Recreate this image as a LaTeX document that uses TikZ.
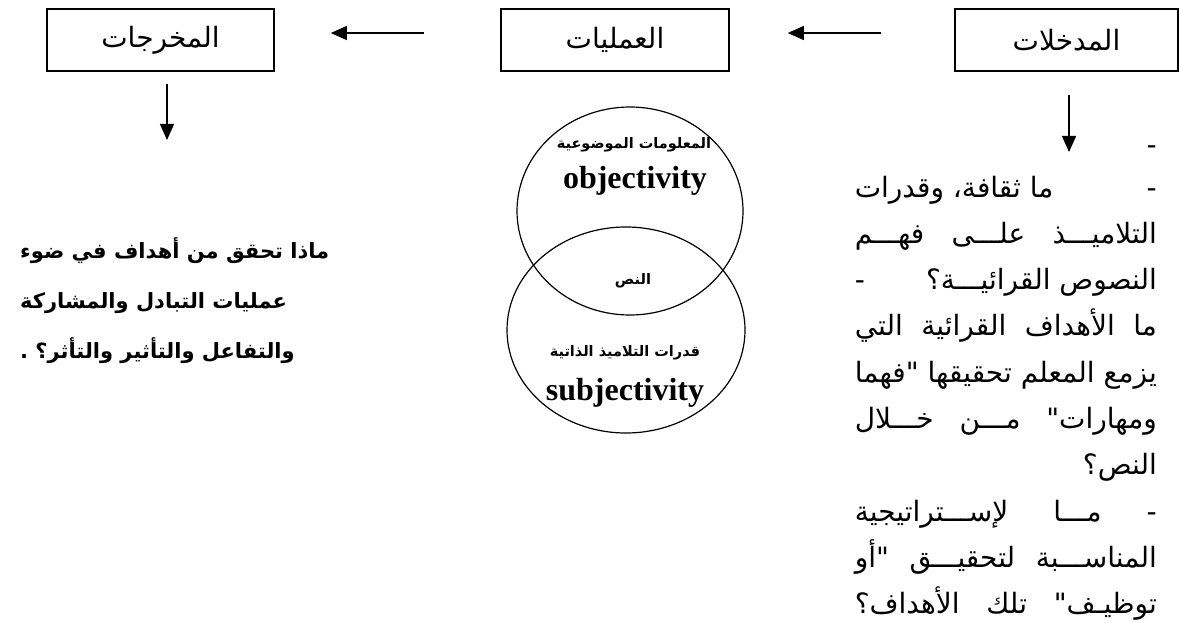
\documentclass[tikz,border=0pt]{standalone}
\usepackage{fontspec}
\usetikzlibrary{arrows.meta}
\TeXXeTstate=1
\newfontfamily\arabicfont[Script=Arabic,Ligatures=TeXOff]{DejaVu Sans}
\newfontfamily\latinserif{Liberation Serif}

\begin{document}
\begin{tikzpicture}[x=1pt, y=-1pt,
    stage/.style={draw, line width=1.6pt, minimum height=62pt, inner sep=0pt,
        font=\arabicfont\fontsize{28}{28}\selectfont},
    flow/.style={-{Triangle[length=16pt,width=14pt]}, line width=1.4pt},
    ring/.style={line width=1.2pt},
    question/.style={anchor=base east, inner sep=0pt,
        font=\arabicfont\fontsize{28}{28}\selectfont},
    goal/.style={anchor=base west, inner sep=0pt,
        font=\arabicfont\bfseries\fontsize{21}{21}\selectfont},
    inlabel/.style={anchor=base, inner sep=0pt,
        font=\arabicfont\bfseries\fontsize{14.5}{14.5}\selectfont},
    enlabel/.style={anchor=base, inner sep=0pt,
        font=\latinserif\bfseries\fontsize{32}{32}\selectfont}]

    \useasboundingbox (0,0) rectangle (1180,623);

    % boxes
    \node[stage, minimum width=227pt] (outbox) at (160.5,40) {\beginR المخرجات\endR};
    \node[stage, minimum width=228pt] (procbox) at (615,40) {\beginR العمليات\endR};
    \node[stage, minimum width=223pt] (inbox) at (1066.5,40) {\beginR المدخلات\endR};

    \draw[flow, shorten <=73pt, shorten >=58pt] ([yshift=7pt]inbox.west) -- ([yshift=7pt]procbox.east);
    \draw[flow, shorten <=76pt, shorten >=56pt] ([yshift=7pt]procbox.west) -- ([yshift=7pt]outbox.east);

    \coordinate (outtip) at (167,140);
    \coordinate (intip) at (1069,152);
    \draw[flow, shorten <=12pt] (outbox.south -| outtip) -- (outtip);
    \draw[flow, shorten <=23pt] (inbox.south -| intip) -- (intip);

    % the two circles
    \draw[ring] (630,211) ellipse [x radius=113pt, y radius=104pt];
    \draw[ring] (626,330) ellipse [x radius=119pt, y radius=103pt];

    \node[inlabel] (objar) at (634,148) {\beginR المعلومات الموضوعية\endR};
    \node[enlabel] (objen) at (635,188) {objectivity};
    \node[inlabel] (textar) at (633,284) {\beginR النص\endR};
    \node[inlabel] (subjar) at (625,356) {\beginR قدرات التلاميذ الذاتية\endR};
    \node[enlabel] (subjen) at (625,400) {subjectivity};

    % outputs
    \node[goal] (g1) at (20,258) {\beginR ماذا تحقق من أهداف في ضوء\endR};
    \node[goal] (g2) at (20,308) {\beginR عمليات التبادل والمشاركة\endR};
    \node[goal] (g3) at (20,358) {\beginR والتفاعل والتأثير والتأثر؟ .\endR};

    % inputs
    \node[question] (q0) at (1157,154) {-};
    \node[question] (q1) at (1157,197) {\hbox to 302pt{\beginR -\hfill ما ثقافة، وقدرات\endR}};
    \node[question] (q2) at (1157,243.3) {\hbox to 302pt{\beginR التلاميـــذ\hfill علـــى\hfill فهـــم\endR}};
    \node[question] (q3) at (1157,289.6) {\hbox to 302pt{\beginR النصوص القرائيـــة؟\hfill -\endR}};
    \node[question] (q4) at (1157,335.9) {\hbox to 302pt{\beginR ما\hfill الأهداف\hfill القرائية\hfill التي\endR}};
    \node[question] (q5) at (1157,382.2) {\hbox to 302pt{\beginR يزمع\hfill المعلم\hfill تحقيقها\hfill "فهما\endR}};
    \node[question] (q6) at (1157,428.5) {\hbox to 302pt{\beginR ومهارات"\hfill مـــن\hfill خـــلال\endR}};
    \node[question] (q7) at (1157,474.8) {\beginR النص؟\endR};
    \node[question] (q8) at (1157,521.1) {\hbox to 302pt{\beginR -\hfill مـــا\hfill لإســـتراتيجية\endR}};
    \node[question] (q9) at (1157,567.4) {\hbox to 302pt{\beginR المناســـبة\hfill لتحقيـــق\hfill "أو\endR}};
    \node[question] (q10) at (1157,613.7) {\hbox to 302pt{\beginR توظيـف"\hfill تلك\hfill الأهداف؟\endR}};

\end{tikzpicture}
\end{document}
